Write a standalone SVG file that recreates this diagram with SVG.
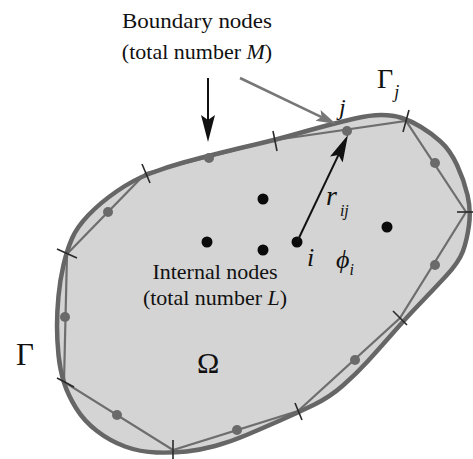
<svg xmlns="http://www.w3.org/2000/svg" width="473" height="459" viewBox="0 0 473 459">
<style>
.t{font-family:"Liberation Serif","Times New Roman",serif;fill:#111}
.it{font-style:italic}
.chord{fill:none;stroke:#6e6e6e;stroke-width:2.2}
.tick{stroke:#2a2a2a;stroke-width:1.6}
.bn{fill:#6a6a6a}
.in{fill:#0a0a0a}
</style>
<defs>
<path id="gamma-curve" d="M63.5,265 Q67,250 72,238.5 Q77,227 88.5,215 Q100,203 116.5,191.5 Q133,180 150,173.5 Q167,167 183.5,162.5 Q200,158 220,153 Q240,148 257.5,144 Q275,140 292.5,135 Q310,130 325,126 Q340,122 355,118.5 Q370,115 381.5,115 Q393,115 402,118 Q411,121 421,127 Q431,133 440.5,141.5 Q450,150 457,165 Q464,180 467.5,195 Q471,210 469,225 Q467,240 463,251 Q459,262 446,276 Q433,290 420,303.5 Q407,317 392.5,333.5 Q378,350 367.5,361.5 Q357,373 343.5,385 Q330,397 313.5,405 Q297,413 280,420.5 Q263,428 246.5,435 Q230,442 215,446 Q200,450 186.5,451.5 Q173,453 156.5,452.5 Q140,452 125,446.5 Q110,441 97,431 Q84,421 76,408 Q68,395 64,382.5 Q60,370 58.5,355 Q57,340 57,326 Q57,312 58.5,296 Q60,280 63.5,265 Z"/>
<marker id="ah" markerUnits="userSpaceOnUse" markerWidth="30" markerHeight="20" viewBox="0 -10 30 20" refX="5" refY="0" orient="auto"><path d="M0,-7 L27,0 L0,7 L5,0 Z" fill="#111"/></marker>
<marker id="ahg" markerUnits="userSpaceOnUse" markerWidth="24" markerHeight="18" viewBox="0 -9 24 18" refX="4" refY="0" orient="auto"><path d="M0,-6 L20,0 L0,6 L4,0 Z" fill="#777"/></marker>
</defs>
<rect width="473" height="459" fill="#fff"/>
<g id="domain">
<use href="#gamma-curve" fill="#d4d4d4" stroke="none"/>
<polygon class="chord" points="146,173 275,140 406,121 466,212 400,318 298,411 173,450 64,382 67,254"/>
<use href="#gamma-curve" fill="none" stroke="#666" stroke-width="4.5" stroke-linejoin="round"/>
<g id="ticks">
<line class="tick" x1="142" y1="164" x2="150" y2="183"/>
<line class="tick" x1="273" y1="131" x2="277" y2="151"/>
<line class="tick" x1="409" y1="110" x2="403" y2="132"/>
<line class="tick" x1="457" y1="212" x2="473" y2="212"/>
<line class="tick" x1="393" y1="311" x2="407" y2="325"/>
<line class="tick" x1="295" y1="403" x2="302" y2="420"/>
<line class="tick" x1="173" y1="440" x2="173" y2="459"/>
<line class="tick" x1="57" y1="378" x2="74" y2="387"/>
<line class="tick" x1="57" y1="249" x2="77" y2="258"/>
</g>
</g>
<g id="boundary-nodes">
<circle class="bn" cx="209" cy="158" r="5"/>
<circle class="bn" cx="347" cy="131" r="5"/>
<circle class="bn" cx="435" cy="163" r="5"/>
<circle class="bn" cx="435" cy="265" r="5"/>
<circle class="bn" cx="355" cy="360" r="5"/>
<circle class="bn" cx="237" cy="430" r="5"/>
<circle class="bn" cx="117" cy="415" r="5"/>
<circle class="bn" cx="65" cy="317" r="5"/>
<circle class="bn" cx="108" cy="212" r="5"/>
</g>
<g id="internal-nodes">
<circle class="in" cx="263" cy="199" r="5.5"/>
<circle class="in" cx="207" cy="242" r="5.5"/>
<circle class="in" cx="263" cy="250" r="5.5"/>
<circle class="in" cx="297" cy="242" r="5.5"/>
<circle class="in" cx="387" cy="227" r="5.5"/>
</g>
<g id="connectors">
<line x1="208" y1="78" x2="208" y2="120" stroke="#111" stroke-width="2" marker-end="url(#ah)"/>
<line x1="240" y1="78" x2="321.6" y2="117.1" stroke="#777" stroke-width="2.5" marker-end="url(#ahg)"/>
<line x1="297" y1="242" x2="338.5" y2="154.9" stroke="#111" stroke-width="2" marker-end="url(#ah)"/>
</g>
<g id="labels">
<text class="t" x="197" y="28" font-size="22" text-anchor="middle" textLength="150" lengthAdjust="spacingAndGlyphs">Boundary nodes</text>
<text class="t" x="197" y="59" font-size="22" text-anchor="middle">(total number <tspan class="it">M</tspan>)</text>
<text class="t" x="215" y="279" font-size="22" text-anchor="middle">Internal nodes</text>
<text class="t" x="215" y="305" font-size="22" text-anchor="middle">(total number <tspan class="it">L</tspan>)</text>
<text class="t it" x="339" y="115" font-size="24">j</text>
<text class="t" x="377" y="88" font-size="28">Γ<tspan class="it" font-size="18" dx="1" dy="10">j</tspan></text>
<text class="t" x="16" y="365" font-size="31">Γ</text>
<text class="t" x="197" y="373" font-size="30">Ω</text>
<text class="t it" x="326" y="205" font-size="28">r<tspan font-size="16" dx="3" dy="11">ij</tspan></text>
<text class="t it" x="307" y="266" font-size="26">i</text>
<text class="t it" x="336" y="268" font-size="26">ϕ<tspan font-size="16" dy="7">i</tspan></text>
</g>
</svg>
